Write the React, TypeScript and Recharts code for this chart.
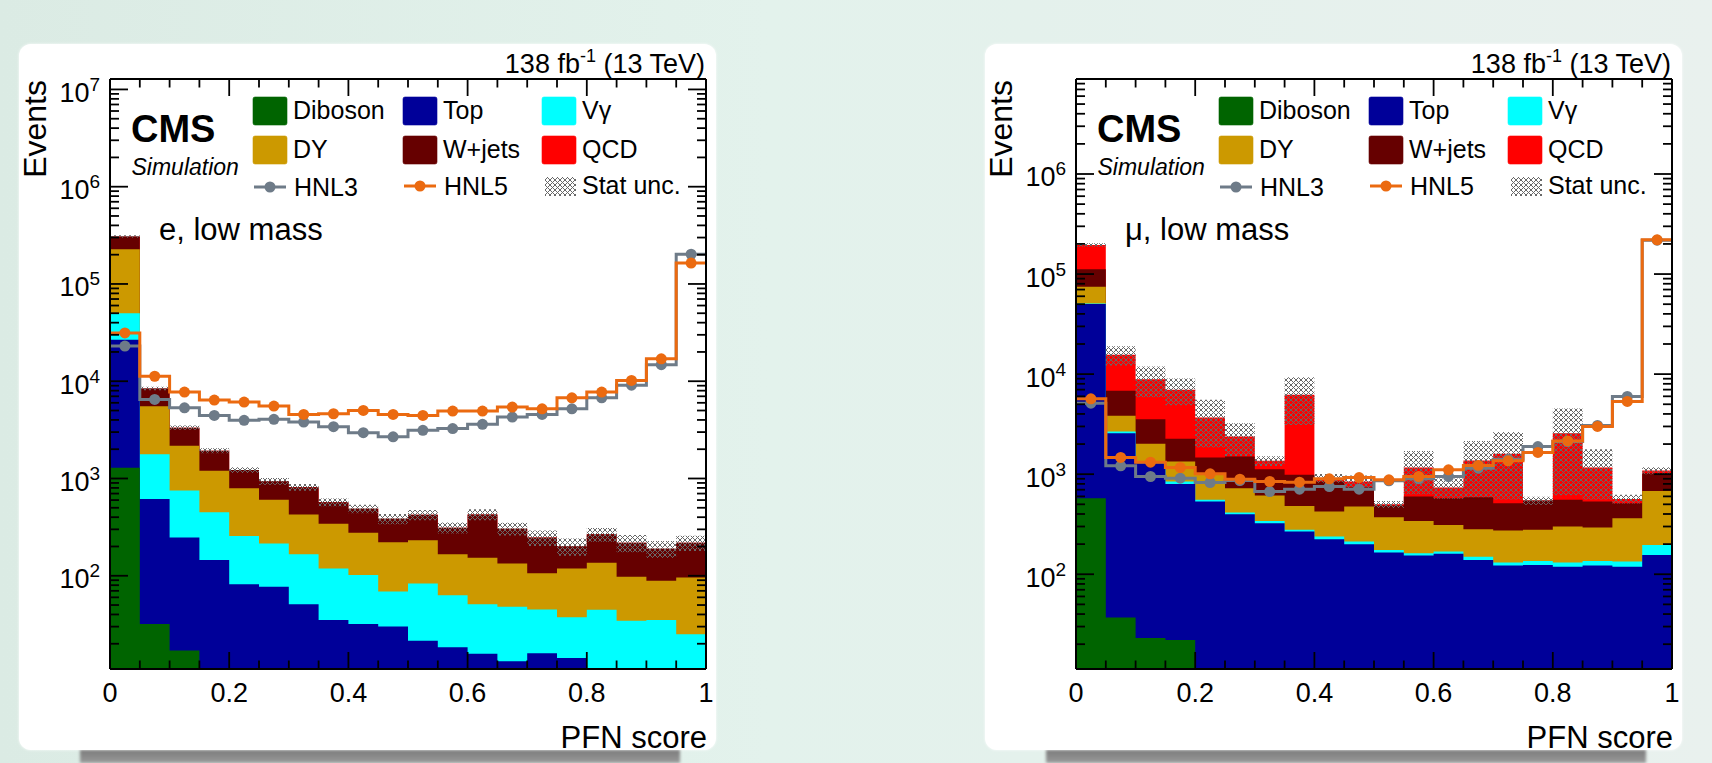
import React from 'react';
import { ComposedChart, Area, Line, XAxis, YAxis } from 'recharts';

// PFN score bins (20 bins of 0.05)
const binCenters = [
  0.025, 0.075, 0.125, 0.175, 0.225, 0.275, 0.325, 0.375, 0.425, 0.475,
  0.525, 0.575, 0.625, 0.675, 0.725, 0.775, 0.825, 0.875, 0.925, 0.975,
];
const xTicks = [
  0, 0.05, 0.1, 0.15, 0.2, 0.25, 0.3, 0.35, 0.4, 0.45, 0.5,
  0.55, 0.6, 0.65, 0.7, 0.75, 0.8, 0.85, 0.9, 0.95, 1,
];

// electron channel, low mass
const eDiboson = [1290, 32, 17, 1, 1, 1, 1, 1, 1, 1, 1, 1, 1, 1, 1, 1, 1, 1, 1, 1];
const eTop = [25400, 585, 230, 144, 81, 76, 50, 34, 31, 29, 20.5, 17.4, 14.8, 12.2, 15, 13.3, 5, 5, 5, 5];
const eVgamma = [23300, 1163, 504, 306, 174, 137, 115, 84, 70, 39, 62, 44.6, 35.2, 34.8, 29, 23.2, 38.6, 28.4, 29, 19];
const eDY = [177000, 3760, 1419, 752, 538, 389, 261, 224, 175, 152, 148.5, 103, 102, 86, 61, 81.5, 91.4, 63.3, 54, 71];
const eWjets = [80000, 2880, 1160, 727, 428, 332, 386, 227, 211, 164, 192, 146, 274, 171, 141, 82, 131, 121, 101, 123];
const eQCD = [0, 0, 0, 0, 0, 0, 0, 0, 0, 0, 0, 0, 0, 0, 0, 0, 0, 0, 0, 0];
const eStat = [0.03, 0.04, 0.05, 0.06, 0.07, 0.08, 0.08, 0.09, 0.1, 0.12, 0.12, 0.13, 0.13, 0.15, 0.18, 0.2, 0.16, 0.2, 0.2, 0.18];
const eHNL3 = [23000, 6500, 5330, 4450, 3960, 4060, 3810, 3410, 2960, 2680, 3130, 3260, 3610, 4280, 4560, 5210, 6760, 9100, 14800, 202000];
const eHNL5 = [31400, 11250, 7730, 6400, 6100, 5550, 4560, 4630, 5010, 4560, 4450, 4930, 4930, 5420, 5210, 6760, 7730, 10200, 17000, 164000];

// muon channel, low mass
const mDiboson = [575, 37, 23, 22, 5, 5, 5, 5, 5, 5, 5, 5, 5, 5, 5, 5, 5, 5, 5, 5];
const mTop = [49500, 2530, 1265, 778, 528, 393, 319, 262, 219, 195, 160, 149, 155, 134, 117, 119, 114, 117, 114, 151];
const mVgamma = [700, 100, 52, 45, 21, 16, 17, 11, 14, 12, 10, 8, 9, 11, 9, 12, 12, 14, 15, 40];
const mDY = [23800, 1160, 670, 495, 431, 311, 271, 204, 185, 263, 197, 179, 142, 132, 142, 142, 169, 157, 229, 485];
const mWjets = [37400, 2980, 1540, 920, 485, 775, 510, 503, 422, 266, 114, 257, 264, 307, 240, 267, 254, 240, 150, 342];
const mQCD = [83000, 8790, 5360, 4710, 2220, 880, 238, 5225, 67, 104, 14, 568, 161, 781, 1087, 0, 2016, 633, 52, 65];
const mStat = [0.04, 0.22, 0.34, 0.3, 0.5, 0.36, 0.11, 0.5, 0.1, 0.15, 0.08, 0.46, 0.23, 0.57, 0.65, 0.09, 0.76, 0.52, 0.1, 0.08];
const mHNL3 = [5130, 1212, 948, 912, 826, 865, 671, 708, 753, 708, 860, 900, 948, 1148, 1413, 1890, 2120, 3070, 5990, 218000];
const mHNL5 = [5670, 1470, 1318, 1166, 1008, 891, 845, 832, 898, 926, 878, 948, 1105, 1222, 1360, 1648, 2150, 3000, 5330, 220000];

const FONT = '"Liberation Sans", Arial, Helvetica, sans-serif';
const colors = {
  diboson: '#006400',
  top: '#000099',
  vgamma: '#00ffff',
  dy: '#cc9900',
  wjets: '#660000',
  qcd: '#ff0000',
  hnl3: '#6e7b88',
  hnl5: '#eb6a10',
};

// drawn back to front: cumulative totals first
const stackOrder = ['qcd', 'wjets', 'dy', 'vgamma', 'top', 'diboson'];

const isMajorX = (v: number) => Math.abs(v * 5 - Math.round(v * 5)) < 1e-6;
const isDecade = (v: number) => {
  const l = Math.log10(v);
  return Math.abs(l - Math.round(l)) < 1e-6;
};

const logTicks = (lo: number, hi: number) => {
  const out: number[] = [];
  for (let e = 1; e <= 7; e++) {
    for (let m = 1; m <= 9; m++) {
      const v = m * Math.pow(10, e);
      if (v >= lo && v <= hi) out.push(v);
    }
  }
  return out;
};

const BottomTick = (props: any) => {
  const { x, y, payload } = props;
  const major = isMajorX(payload.value);
  return (
    <g>
      <line x1={x} x2={x} y1={y} y2={y - (major ? 17 : 8.5)} stroke="#000" strokeWidth={1.8} />
      {major && (
        <text x={x} y={y + 33} textAnchor="middle" fontSize={27} fontFamily={FONT} fill="#000">
          {String(Math.round(payload.value * 10) / 10)}
        </text>
      )}
    </g>
  );
};

const TopTick = (props: any) => {
  const { x, y, payload } = props;
  const major = isMajorX(payload.value);
  return <line x1={x} x2={x} y1={y} y2={y + (major ? 17 : 8.5)} stroke="#000" strokeWidth={1.8} />;
};

const LeftTick = (props: any) => {
  const { x, y, payload } = props;
  const major = isDecade(payload.value);
  return (
    <g>
      <line x1={x} x2={x + (major ? 18 : 9)} y1={y} y2={y} stroke="#000" strokeWidth={1.8} />
      {major && (
        <text x={x - 10} y={y + 12.5} textAnchor="end" fontSize={27} fontFamily={FONT} fill="#000">
          10
          <tspan dy={-11} fontSize={19}>
            {Math.round(Math.log10(payload.value))}
          </tspan>
        </text>
      )}
    </g>
  );
};

const RightTick = (props: any) => {
  const { x, y, payload } = props;
  const major = isDecade(payload.value);
  return <line x1={x} x2={x - (major ? 18 : 9)} y1={y} y2={y} stroke="#000" strokeWidth={1.8} />;
};

const makeDot = (color: string) => (props: any) =>
  props.payload.center ? (
    <circle key={`d${props.index}`} cx={props.cx} cy={props.cy} r={5.5} fill={color} />
  ) : (
    <g key={`d${props.index}`} />
  );

type PanelProps = {
  left: number;
  channel: string;
  yDomain: [number, number];
  diboson: number[];
  top: number[];
  vgamma: number[];
  dy: number[];
  wjets: number[];
  qcd: number[];
  stat: number[];
  hnl3: number[];
  hnl5: number[];
};

const buildRows = (p: PanelProps) => {
  const xs = [0, ...binCenters, 1];
  return xs.map((x, k) => {
    const i = Math.min(Math.max(k - 1, 0), binCenters.length - 1);
    const c1 = p.diboson[i];
    const c2 = c1 + p.top[i];
    const c3 = c2 + p.vgamma[i];
    const c4 = c3 + p.dy[i];
    const c5 = c4 + p.wjets[i];
    const c6 = c5 + p.qcd[i];
    return {
      x,
      diboson: c1,
      top: c2,
      vgamma: c3,
      dy: c4,
      wjets: c5,
      qcd: c6,
      stat: [c6 * (1 - p.stat[i]), c6 * (1 + p.stat[i])],
      hnl3: p.hnl3[i],
      hnl5: p.hnl5[i],
      center: k > 0 && k <= binCenters.length,
    };
  });
};

const LegendBox = ({ x, y, color, label }: { x: number; y: number; color: string; label: string }) => (
  <g>
    <rect x={x} y={y} width={34} height={28} rx={2} fill={color} stroke={color} strokeOpacity={0.6} />
    <text x={x + 40} y={y + 22} fontSize={25} fontFamily={FONT} fill="#000">
      {label}
    </text>
  </g>
);

const LegendLine = ({ x, y, color, label }: { x: number; y: number; color: string; label: string }) => (
  <g>
    <line x1={x} x2={x + 32} y1={y} y2={y} stroke={color} strokeWidth={3} />
    <circle cx={x + 16} cy={y} r={5.5} fill={color} />
    <text x={x + 40} y={y + 8.5} fontSize={25} fontFamily={FONT} fill="#000">
      {label}
    </text>
  </g>
);

const frameLine = { stroke: '#000', strokeWidth: 2 };

const Panel = (p: PanelProps) => {
  const rows = buildRows(p);
  const yTicks = logTicks(p.yDomain[0], p.yDomain[1]);
  return (
    <div style={{ position: 'absolute', left: p.left, top: 0, width: 720, height: 763 }}>
      <div
        style={{
          position: 'absolute',
          left: 80,
          top: 748,
          width: 600,
          height: 15,
          background: 'linear-gradient(to bottom, #767676, #9a9a9a)',
          filter: 'blur(1.5px)',
        }}
      />
      <div
        style={{
          position: 'absolute',
          left: 19,
          top: 44,
          width: 697,
          height: 706,
          background: '#fff',
          borderRadius: 12,
          boxShadow: '0 0 3px rgba(255,255,255,0.9)',
        }}
      />
      <div style={{ position: 'absolute', left: 0, top: 0 }}>
        <ComposedChart width={720} height={763} data={rows} margin={{ top: 78, right: 13, bottom: 93, left: 10 }}>
          {stackOrder.map((key) => (
            <Area
              key={key}
              dataKey={key}
              type="step"
              fill={(colors as any)[key]}
              fillOpacity={1}
              stroke="none"
              baseValue="dataMin"
              dot={false}
              activeDot={false}
              isAnimationActive={false}
            />
          ))}
          <Area
            dataKey="stat"
            type="step"
            fill="url(#statHatch)"
            fillOpacity={1}
            stroke="none"
            dot={false}
            activeDot={false}
            isAnimationActive={false}
          />
          <Line
            dataKey="hnl3"
            type="step"
            stroke={colors.hnl3}
            strokeWidth={3}
            dot={makeDot(colors.hnl3)}
            activeDot={false}
            isAnimationActive={false}
          />
          <Line
            dataKey="hnl5"
            type="step"
            stroke={colors.hnl5}
            strokeWidth={3}
            dot={makeDot(colors.hnl5)}
            activeDot={false}
            isAnimationActive={false}
          />
          <XAxis
            xAxisId={0}
            dataKey="x"
            type="number"
            domain={[0, 1]}
            ticks={xTicks}
            interval={0}
            height={1}
            tickSize={0}
            tickMargin={0}
            tickLine={false}
            tick={BottomTick}
            axisLine={frameLine}
            allowDataOverflow
          />
          <XAxis
            xAxisId="top"
            orientation="top"
            dataKey="x"
            type="number"
            domain={[0, 1]}
            ticks={xTicks}
            interval={0}
            height={1}
            tickSize={0}
            tickMargin={0}
            tickLine={false}
            tick={TopTick}
            axisLine={frameLine}
            allowDataOverflow
          />
          <YAxis
            yAxisId={0}
            type="number"
            scale="log"
            domain={p.yDomain}
            ticks={yTicks}
            interval={0}
            width={100}
            tickSize={0}
            tickMargin={0}
            tickLine={false}
            tick={LeftTick}
            axisLine={frameLine}
            allowDataOverflow
          />
          <YAxis
            yAxisId="right"
            orientation="right"
            type="number"
            scale="log"
            domain={p.yDomain}
            ticks={yTicks}
            interval={0}
            width={1}
            tickSize={0}
            tickMargin={0}
            tickLine={false}
            tick={RightTick}
            axisLine={frameLine}
            allowDataOverflow
          />
        </ComposedChart>
      </div>
      <svg
        width={720}
        height={763}
        style={{ position: 'absolute', left: 0, top: 0, pointerEvents: 'none' }}
        fontFamily={FONT}
      >
        <text x={705} y={72.5} textAnchor="end" fontSize={27} fill="#000">
          138 fb<tspan dy={-11} fontSize={18}>-1</tspan>
          <tspan dy={11}> (13 TeV)</tspan>
        </text>
        <text x={46} y={80} transform="rotate(-90 46 80)" textAnchor="end" fontSize={32} fill="#000">
          Events
        </text>
        <text x={707} y={748} textAnchor="end" fontSize={31} fill="#000">
          PFN score
        </text>
        <text x={131} y={141.5} fontSize={38} fontWeight="bold" fill="#000">
          CMS
        </text>
        <text x={131.5} y={175} fontSize={23} fontStyle="italic" fill="#000">
          Simulation
        </text>
        <text x={159} y={240} fontSize={31} fill="#000">
          {p.channel}
        </text>
        <LegendBox x={253} y={97} color={colors.diboson} label="Diboson" />
        <LegendBox x={403} y={97} color={colors.top} label="Top" />
        <LegendBox x={542} y={97} color={colors.vgamma} label="Vγ" />
        <LegendBox x={253} y={136} color={colors.dy} label="DY" />
        <LegendBox x={403} y={136} color={colors.wjets} label="W+jets" />
        <LegendBox x={542} y={136} color={colors.qcd} label="QCD" />
        <LegendLine x={254} y={187} color={colors.hnl3} label="HNL3" />
        <LegendLine x={404} y={186} color={colors.hnl5} label="HNL5" />
        <rect x={545} y={177} width={31} height={19} fill="url(#statHatch)" />
        <text x={582} y={194} fontSize={25} fill="#000">
          Stat unc.
        </text>
      </svg>
    </div>
  );
};

export default function App() {
  return (
    <div
      style={{
        position: 'absolute',
        left: 0,
        top: 0,
        width: 1712,
        height: 763,
        overflow: 'hidden',
        background: 'linear-gradient(90deg, #dbebe4 0%, #e3f2ec 45%, #e4f1ec 60%, #e9f1ee 100%)',
      }}
    >
      <svg width={0} height={0} style={{ position: 'absolute' }}>
        <defs>
          <pattern id="statHatch" patternUnits="userSpaceOnUse" width={5} height={5}>
            <path d="M0,0L5,5M5,0L0,5" stroke="#686868" strokeWidth={1} />
          </pattern>
        </defs>
      </svg>
      <Panel
        left={0}
        channel="e, low mass"
        yDomain={[11, 1.28e7]}
        diboson={eDiboson}
        top={eTop}
        vgamma={eVgamma}
        dy={eDY}
        wjets={eWjets}
        qcd={eQCD}
        stat={eStat}
        hnl3={eHNL3}
        hnl5={eHNL5}
      />
      <Panel
        left={966}
        channel="μ, low mass"
        yDomain={[11.3, 8.9e6]}
        diboson={mDiboson}
        top={mTop}
        vgamma={mVgamma}
        dy={mDY}
        wjets={mWjets}
        qcd={mQCD}
        stat={mStat}
        hnl3={mHNL3}
        hnl5={mHNL5}
      />
    </div>
  );
}
